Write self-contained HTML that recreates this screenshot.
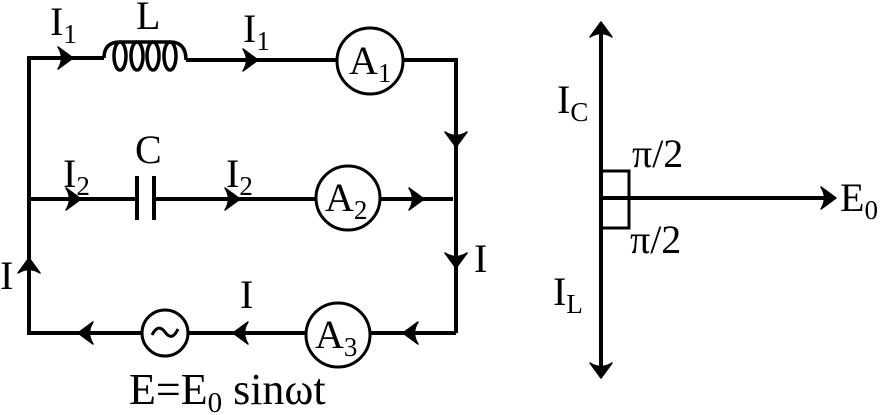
<!DOCTYPE html>
<html><head><style>
body{margin:0;background:#fff;}
svg{display:block;}
text{font-family:"Liberation Serif","Times New Roman","DejaVu Serif",serif;fill:#000;}
</style></head><body>
<svg width="880" height="415" viewBox="0 0 880 415" xmlns="http://www.w3.org/2000/svg">
<defs>
<path id="ah" d="M0,0 L-15,-11 Q-8,0 -15,11 Z" fill="#000" stroke="#000" stroke-width="1.5" stroke-linejoin="round"/>
</defs>
<g fill="none" stroke="#000" stroke-width="4" stroke-linejoin="miter">
<polyline points="104,58 29,58 29,333 142,333"/>
<line x1="188" y1="333" x2="306" y2="333"/>
<line x1="370" y1="333" x2="456" y2="333"/>
<polyline points="186,60 337,60"/>
<polyline points="403,60 456,60 456,333"/>
<line x1="29" y1="199" x2="137" y2="199"/>
<line x1="154" y1="199" x2="316" y2="199"/>
<line x1="380" y1="199" x2="453" y2="199"/>
<line x1="137" y1="176" x2="137" y2="220"/>
<line x1="154" y1="176" x2="154" y2="220"/>
<path d="M104,58 Q104,42 120,42 L170,42 Q186,42 186,60" stroke-width="3.5"/>
<ellipse cx="120" cy="56" rx="6" ry="14" stroke-width="3.5"/>
<ellipse cx="137" cy="56" rx="6" ry="14" stroke-width="3.5"/>
<ellipse cx="153" cy="56" rx="6" ry="14" stroke-width="3.5"/>
<ellipse cx="170" cy="56" rx="6" ry="14" stroke-width="3.5"/>
<circle cx="370" cy="61" r="33" stroke-width="3"/>
<circle cx="348" cy="198" r="32" stroke-width="3"/>
<circle cx="338" cy="335" r="32" stroke-width="3"/>
<circle cx="165" cy="333" r="23" stroke-width="3"/>
<line x1="601" y1="26" x2="601" y2="374"/>
<line x1="601" y1="198" x2="830" y2="198"/>
<rect x="601" y="171" width="28" height="57" stroke-width="3"/>
</g>
<use href="#ah" transform="translate(73,58)"/>
<use href="#ah" transform="translate(258,60)"/>
<use href="#ah" transform="translate(81,199)"/>
<use href="#ah" transform="translate(240,199)"/>
<use href="#ah" transform="translate(424,199)"/>
<use href="#ah" transform="translate(456,147) rotate(90)"/>
<use href="#ah" transform="translate(456,268) rotate(90)"/>
<use href="#ah" transform="translate(29,258) rotate(-90)"/>
<use href="#ah" transform="translate(78,333) rotate(180)"/>
<use href="#ah" transform="translate(233,333) rotate(180)"/>
<use href="#ah" transform="translate(403,333) rotate(180)"/>
<use href="#ah" transform="translate(601,22) rotate(-90)"/>
<use href="#ah" transform="translate(601,378) rotate(90)"/>
<use href="#ah" transform="translate(836,198)"/>
<path d="M152,335 Q158,323 165,332 Q172,342 178,329" fill="none" stroke="#000" stroke-width="3"/>
<g font-size="40" font-family="Liberation Serif, Times New Roman, DejaVu Serif, serif">
<text x="50" y="35">I<tspan font-size="27" dy="8">1</tspan></text>
<text x="136" y="29">L</text>
<text x="243" y="42">I<tspan font-size="27" dy="8">1</tspan></text>
<text x="349" y="74">A<tspan font-size="27" dy="8">1</tspan></text>
<text x="135" y="163">C</text>
<text x="63" y="187">I<tspan font-size="27" dy="8">2</tspan></text>
<text x="226" y="187">I<tspan font-size="27" dy="8">2</tspan></text>
<text x="325" y="211">A<tspan font-size="27" dy="8">2</tspan></text>
<text x="474" y="272">I</text>
<text x="0" y="289">I</text>
<text x="240" y="308">I</text>
<text x="315" y="348">A<tspan font-size="27" dy="8">3</tspan></text>
<text x="129" y="404" font-size="44">E=E<tspan font-size="29" dy="8">0</tspan><tspan dy="-8"> sinωt</tspan></text>
<text x="557" y="113">I<tspan font-size="27" dy="8">C</tspan></text>
<text x="632" y="167">π/2</text>
<text x="840" y="211">E<tspan font-size="27" dy="8">0</tspan></text>
<text x="630" y="253">π/2</text>
<text x="553" y="305">I<tspan font-size="27" dy="8">L</tspan></text>
</g>
</svg>
</body></html>
